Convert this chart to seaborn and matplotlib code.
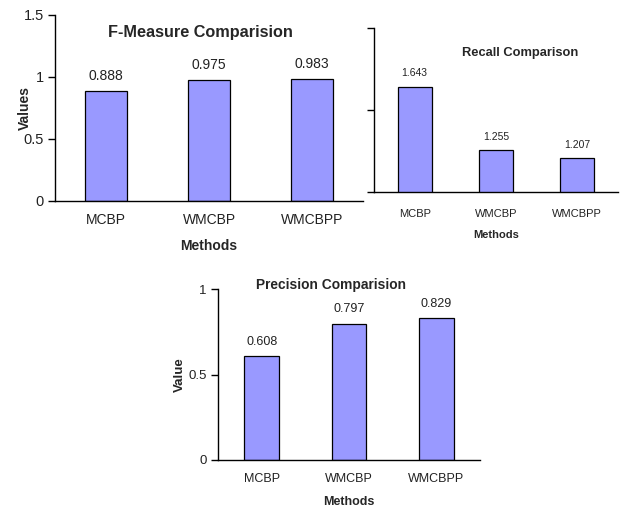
import matplotlib
matplotlib.use("Agg")
import matplotlib.pyplot as plt
import seaborn as sns

sns.set_theme(style="white")
plt.rcParams["font.family"] = ["Liberation Sans", "DejaVu Sans"]

methods = ["MCBP", "WMCBP", "WMCBPP"]
f_measure = [0.888, 0.975, 0.983]
recall = [1.643, 1.255, 1.207]
precision = [0.608, 0.797, 0.829]

f_ticks = [0, 0.5, 1, 1.5]
f_ticklabels = ["0", "0.5", "1", "1.5"]
r_ticks = [1, 1.5, 2]
p_ticks = [0, 0.5, 1]
p_ticklabels = ["0", "0.5", "1"]

BAR = "#9999FF"
W, H = 622, 508


def px_axes(fig, left, top, right, bottom):
    return fig.add_axes([left / W, 1 - bottom / H, (right - left) / W, (bottom - top) / H])


def style(ax, vals, ylim, ticks, ticklabels, tick_fs, ytick_fs, val_fs, width, xpad=9):
    sns.barplot(x=methods, y=vals, color=BAR, edgecolor="black", linewidth=0.9,
                width=width, saturation=1, ax=ax)
    ax.set_xlim(-0.5, 2.5)
    ax.set_ylim(*ylim)
    ax.set_yticks(ticks)
    ax.set_yticklabels(ticklabels)
    for s in ("top", "right"):
        ax.spines[s].set_visible(False)
    for s in ("left", "bottom"):
        ax.spines[s].set_color("black")
        ax.spines[s].set_linewidth(1.0)
    ax.set_xticks([-0.5, 0.5, 1.5, 2.5], minor=True)
    ax.tick_params(axis="x", which="major", length=0, labelsize=tick_fs, pad=xpad, colors="#222222")
    ax.tick_params(axis="x", which="minor", length=5, width=1, color="black", direction="out")
    ax.tick_params(axis="y", length=5, width=1, color="black", direction="out",
                   labelsize=ytick_fs, pad=3, labelcolor="#222222", left=True)
    ax.set_xlabel("Methods", fontsize=tick_fs, fontweight="bold", labelpad=8)
    for c in ax.containers:
        ax.bar_label(c, labels=[f"{v:.3f}" for v in vals], padding=6,
                     fontsize=val_fs, color="#222222")


fig = plt.figure(figsize=(W / 100, H / 100), dpi=100)

# F-Measure
ax1 = px_axes(fig, 55, 15, 363, 201)
style(ax1, f_measure, (0, 1.5), f_ticks, f_ticklabels, 10, 10.5, 10, 0.41)
ax1.set_ylabel("Values", fontsize=10, fontweight="bold", labelpad=-6)
fig.text(200 / W, 1 - 32 / H, "F-Measure Comparision", ha="center", va="center",
         fontsize=11.7, fontweight="bold")

# Recall
ax2 = px_axes(fig, 374, 28, 618, 192)
style(ax2, recall, (1, 2), r_ticks, ["", "", ""], 8, 8, 7.5, 0.42, xpad=12)
ax2.set_ylabel("")
fig.text(520 / W, 1 - 53 / H, "Recall Comparison", ha="center", va="center",
         fontsize=9.3, fontweight="bold")

# Precision
ax3 = px_axes(fig, 218, 289, 480, 460)
style(ax3, precision, (0, 1), p_ticks, p_ticklabels, 9, 9.5, 9, 0.40)
ax3.set_ylabel("Value", fontsize=9.5, fontweight="bold", labelpad=2)
fig.text(331 / W, 1 - 285 / H, "Precision Comparision", ha="center", va="center",
         fontsize=9.9, fontweight="bold")

fig.savefig("out.png", dpi=100)
